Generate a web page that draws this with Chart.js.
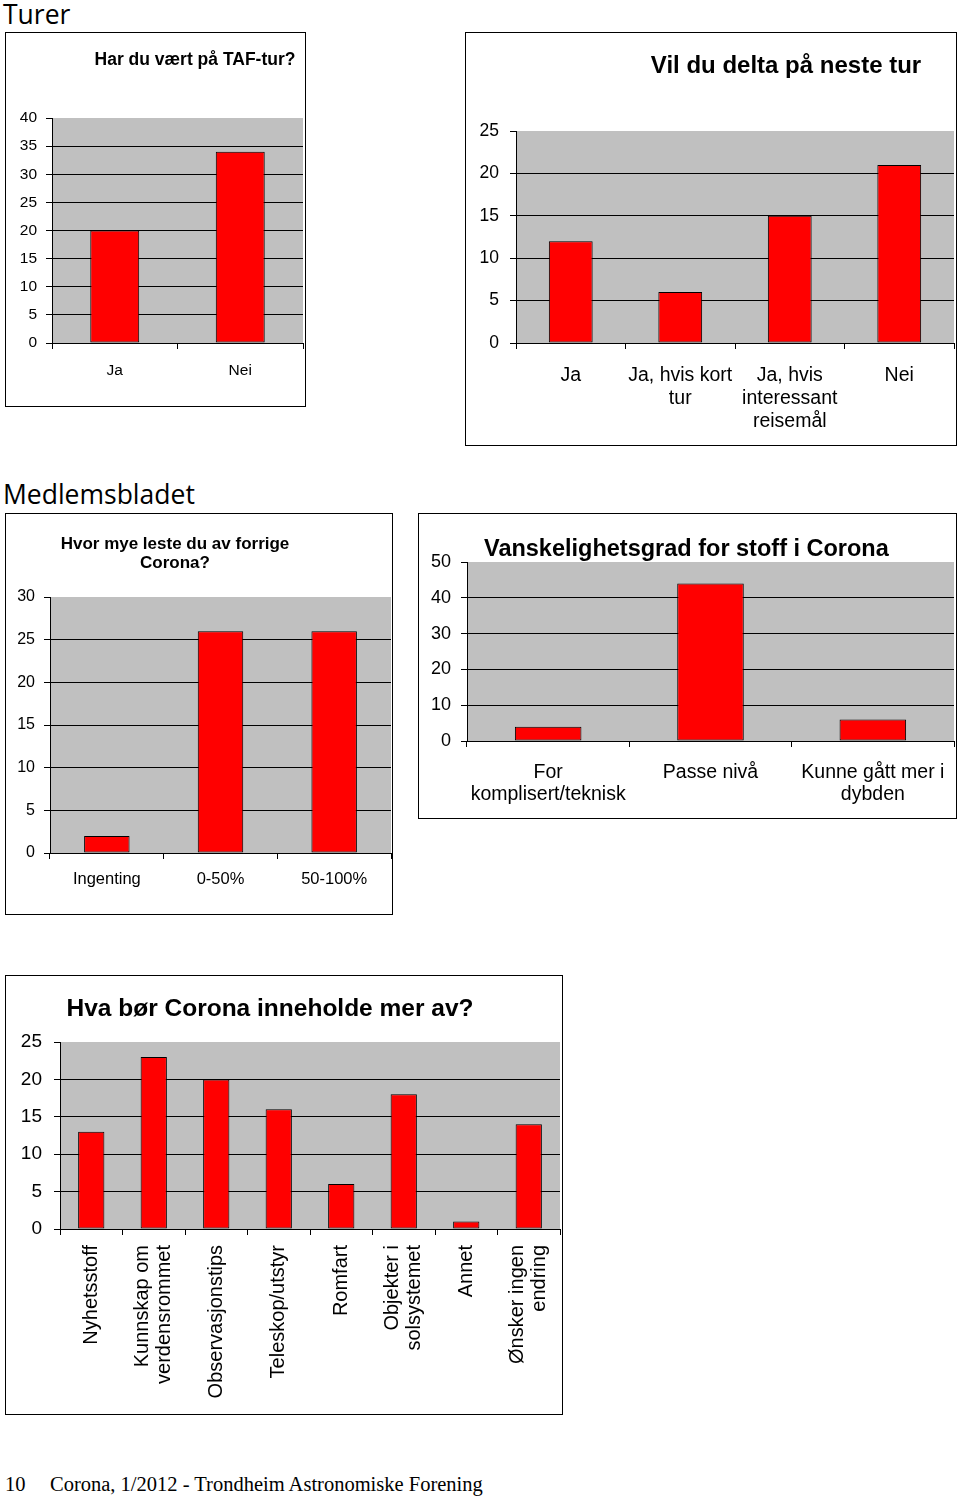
<!DOCTYPE html>
<html>
<head>
<meta charset="utf-8">
<script src="https://cdn.jsdelivr.net/npm/chart.js@4.4.0/dist/chart.umd.min.js"></script>
<style>
html, body { margin: 0; padding: 0; overflow: hidden; }
body { background: #fff; width: 960px; height: 1497px; position: relative; font-family: 'Liberation Sans', Arial, sans-serif; color: #000; }
.head { position: absolute; left: 3px; font-family: 'Open Sans', sans-serif; font-size: 26.5px; line-height: 30px; }
.box { position: absolute; border: 1px solid #000; background: #fff; }
.box canvas { position: absolute; left: 0; top: 0; }
.title { position: absolute; font-weight: bold; text-align: center; white-space: nowrap; }
.foot { position: absolute; top: 1472px; font-family: 'Liberation Serif', 'Times New Roman', serif; font-size: 20.5px; line-height: 24px; }
</style>
</head>
<body>

<div class="head" style="top:-1px">Turer</div>
<div class="head" style="top:479px">Medlemsbladet</div>

<div class="box" style="left:5px; top:32px; width:299px; height:373px"><canvas id="turChart" width="299" height="373"></canvas></div>
<div class="box" style="left:465px; top:32px; width:490px; height:412px"><canvas id="neste" width="490" height="412"></canvas></div>
<div class="box" style="left:5px; top:513px; width:386px; height:400px"><canvas id="leste" width="386" height="400"></canvas></div>
<div class="box" style="left:418px; top:513px; width:537px; height:304px"><canvas id="vansk" width="537" height="304"></canvas></div>
<div class="box" style="left:5px; top:975px; width:556px; height:438px"><canvas id="innhold" width="556" height="438"></canvas></div>

<div class="title" style="left:-55px; width:500px; top:50px; font-size:17.5px; line-height:19px">Har du vært på TAF-tur?</div>
<div class="title" style="left:586px; width:400px; top:51px; font-size:24px; line-height:27px">Vil du delta på neste tur</div>
<div class="title" style="left:-25px; width:400px; top:534px; font-size:17px; line-height:19px">Hvor mye leste du av forrige<br>Corona?</div>
<div class="title" style="left:484px; width:400px; top:535px; font-size:23.5px; line-height:26px">Vanskelighetsgrad for stoff i Corona</div>
<div class="title" style="left:20px; width:500px; top:994px; font-size:24.5px; line-height:27px">Hva bør Corona inneholde mer av?</div>

<div class="foot" style="left:5px">10</div>
<div class="foot" style="left:50px">Corona, 1/2012 - Trondheim Astronomiske Forening</div>

<script>
// Turer
const turLabels = ['Ja', 'Nei'];
const turValues = [20, 34];
const turMax = 40;
const turStep = 5;

const nesteLabels = [['Ja'], ['Ja, hvis kort', 'tur'], ['Ja, hvis', 'interessant', 'reisemål'], ['Nei']];
const nesteValues = [12, 6, 15, 21];
const nesteMax = 25;
const nesteStep = 5;

// Medlemsbladet
const lesteLabels = ['Ingenting', '0-50%', '50-100%'];
const lesteValues = [2, 26, 26];
const lesteMax = 30;
const lesteStep = 5;

const vanskLabels = [['For', 'komplisert/teknisk'], ['Passe nivå'], ['Kunne gått mer i', 'dybden']];
const vanskValues = [4, 44, 6];
const vanskMax = 50;
const vanskStep = 10;

const innholdLabels = ['Nyhetsstoff', ['Kunnskap om', 'verdensrommet'], 'Observasjonstips', 'Teleskop/utstyr',
    'Romfart', ['Objekter i', 'solsystemet'], 'Annet', ['Ønsker ingen', 'endring']];
const innholdValues = [13, 23, 20, 16, 6, 18, 1, 14];
const innholdMax = 25;
const innholdStep = 5;

Chart.defaults.font.family = "'Liberation Sans', Arial, sans-serif";
Chart.defaults.color = '#000';

// grey plot area like the old Excel charts
const plotBg = {
    id: 'plotBg',
    beforeDraw(chart) {
        const { ctx, chartArea: a } = chart;
        ctx.save();
        ctx.fillStyle = '#c0c0c0';
        ctx.fillRect(a.left, a.top, a.right - a.left, a.bottom - a.top);
        ctx.restore();
    }
};

// rotated labels with two lines: centre the pair on the category instead of the first line
const centerRotated = {
    id: 'centerRotated',
    beforeDraw(chart) {
        const s = chart.scales.x;
        if (!s.options.ticks.minRotation) return;
        const f = s.options.ticks.font;
        const lh = f.size * f.lineHeight;
        s.getLabelItems(chart.chartArea).forEach(item => {
            if (Array.isArray(item.label) && item.label.length > 1 && !item._shifted) {
                item.options.translation[0] -= (item.label.length - 1) * lh / 2;
                item._shifted = true;
            }
        });
    }
};

function makeChart(id, labels, values, yMax, yStep, o) {
    return new Chart(document.getElementById(id), {
        type: 'bar',
        data: {
            labels: labels,
            datasets: [{
                data: values,
                backgroundColor: '#ff0000',
                borderColor: '#000',
                borderWidth: 1,
                borderSkipped: false,
                barPercentage: o.bar,
                categoryPercentage: 1
            }]
        },
        options: {
            responsive: false,
            animation: false,
            layout: { padding: { top: o.top, right: o.right, left: 0, bottom: 0 } },
            plugins: { legend: { display: false }, tooltip: { enabled: false }, title: { display: false } },
            scales: {
                x: {
                    grid: { drawOnChartArea: false, color: '#000', tickLength: 6, offset: true },
                    border: { color: '#000' },
                    ticks: {
                        color: '#000',
                        font: { size: o.xFont, lineHeight: o.xLine },
                        padding: o.xPad,
                        maxRotation: o.rot,
                        minRotation: o.rot,
                        autoSkip: false
                    },
                    afterFit(s) {
                        s.height = o.xH;
                        s.paddingLeft = 0;
                        s.paddingRight = 0;
                    }
                },
                y: {
                    min: 0,
                    max: yMax,
                    grid: {
                        color: c => (c.tick && c.tick.value === yMax) ? 'rgba(0,0,0,0)' : '#000',
                        tickColor: '#000',
                        tickLength: 6
                    },
                    border: { color: '#000' },
                    ticks: { stepSize: yStep, color: '#000', font: { size: o.yFont }, padding: o.yPad },
                    afterFit(s) { s.width = o.yW; }
                }
            }
        },
        plugins: [plotBg, centerRotated]
    });
}

makeChart('turChart', turLabels, turValues, turMax, turStep,
    { bar: 0.39, top: 85, right: 2, yW: 46, xH: 63, yFont: 15.5, yPad: 9, xFont: 15.5, xLine: 1.2, xPad: 12, rot: 0 });
makeChart('neste', nesteLabels, nesteValues, nesteMax, nesteStep,
    { bar: 0.4, top: 98, right: 2, yW: 50, xH: 102, yFont: 17.5, yPad: 11, xFont: 19.5, xLine: 1.18, xPad: 15, rot: 0 });
makeChart('leste', lesteLabels, lesteValues, lesteMax, lesteStep,
    { bar: 0.4, top: 83, right: 1, yW: 44, xH: 61, yFont: 16, yPad: 9, xFont: 16.5, xLine: 1.2, xPad: 11, rot: 0 });
makeChart('vansk', vanskLabels, vanskValues, vanskMax, vanskStep,
    { bar: 0.41, top: 48, right: 2, yW: 48, xH: 77, yFont: 18, yPad: 10, xFont: 19.5, xLine: 1.13, xPad: 15, rot: 0 });
makeChart('innhold', innholdLabels, innholdValues, innholdMax, innholdStep,
    { bar: 0.42, top: 66, right: 2, yW: 54, xH: 185, yFont: 19, yPad: 12, xFont: 20, xLine: 1.1, xPad: 10, rot: 90 });
</script>
</body>
</html>
